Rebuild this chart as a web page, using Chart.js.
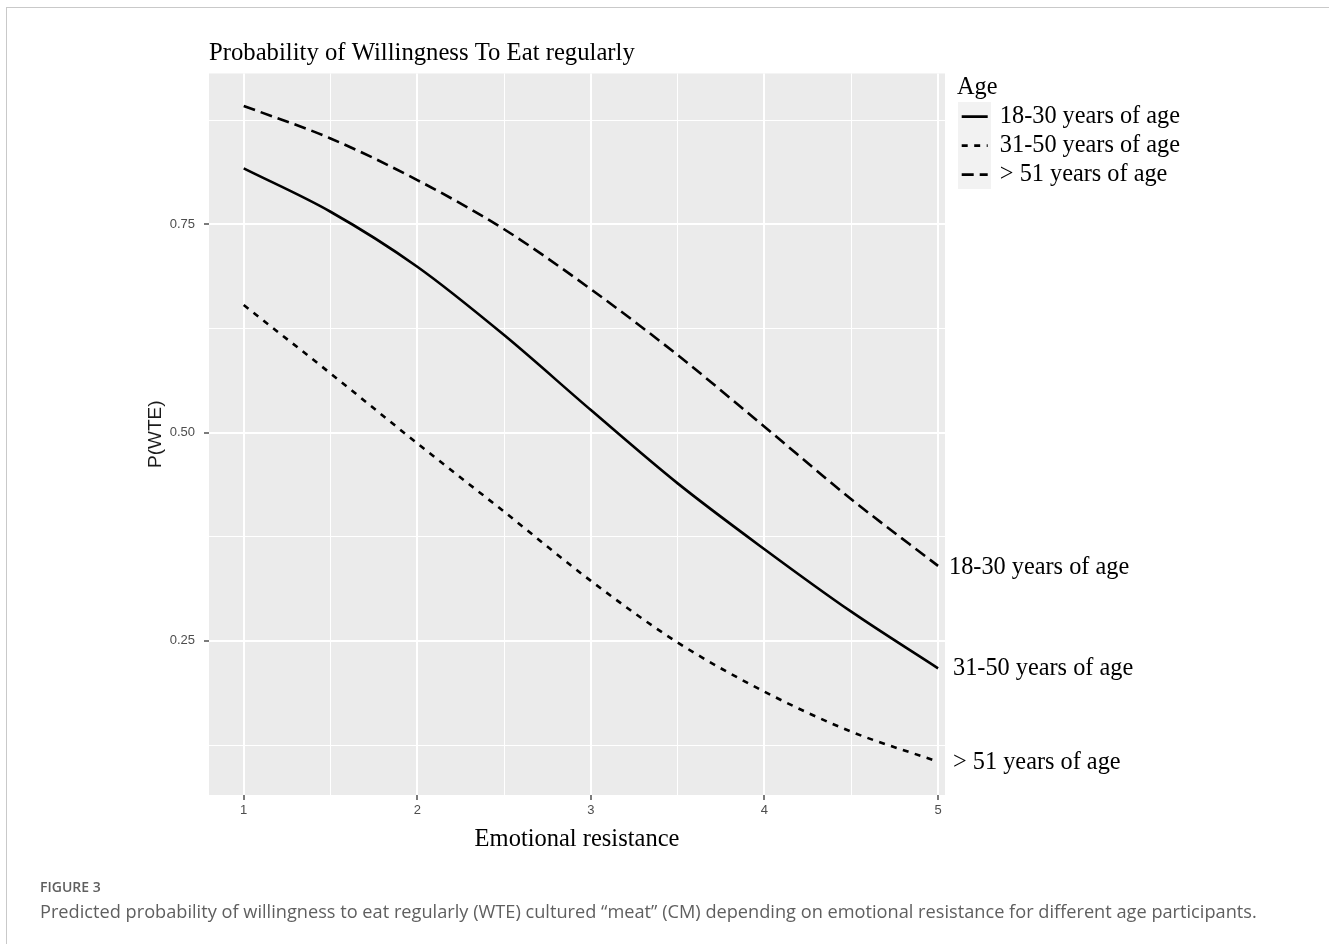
<!DOCTYPE html>
<html><head><meta charset="utf-8">
<script src="https://cdn.jsdelivr.net/npm/chart.js@4.4.1/dist/chart.umd.min.js"></script>
<style>
html,body{margin:0;padding:0;background:#fff;width:1329px;height:944px;overflow:hidden;}
#frame{position:absolute;left:6px;top:7px;width:1400px;height:1000px;border-left:1.5px solid #c9c9c9;border-top:1.5px solid #c9c9c9;}
#wrap{position:absolute;left:0;top:0;width:1329px;height:944px;}
#fig{position:absolute;left:40px;top:877px;font-family:"Open Sans";font-weight:600;font-size:14px;color:#5f5f5f;}
#cap{position:absolute;left:40px;top:899px;font-family:"Open Sans";font-size:18.2px;color:#5f5f5f;white-space:nowrap;}
</style></head><body>
<div id="frame"></div>
<div id="wrap"><canvas id="c" width="1329" height="944"></canvas></div>
<div id="fig">FIGURE 3</div>
<div id="cap">Predicted probability of willingness to eat regularly (WTE) cultured “meat” (CM) depending on emotional resistance for different age participants.</div>
<script>
const emotionalResistance = [1, 1.5, 2, 2.5, 3, 3.5, 4, 4.5, 5];
const age18to30 = [0.817, 0.765, 0.699, 0.617, 0.527, 0.439, 0.360, 0.285, 0.217];
const age31to50 = [0.653, 0.571, 0.487, 0.405, 0.322, 0.248, 0.189, 0.141, 0.105];
const age51plus = [0.892, 0.853, 0.803, 0.744, 0.672, 0.593, 0.507, 0.420, 0.340];
const seriesNames = ['18-30 years of age', '31-50 years of age', '> 51 years of age'];
const endLabelTexts = ['31-50 years of age', '> 51 years of age', '18-30 years of age'];
const xMajorTicks = [1, 2, 3, 4, 5];
const xMinorTicks = [1.5, 2.5, 3.5, 4.5];
const yMajorTicks = [0.25, 0.5, 0.75];
const yMajorLabels = ['0.25', '0.50', '0.75'];
const yMinorTicks = [0.125, 0.375, 0.625, 0.875];

const seriesValues = [age18to30, age31to50, age51plus];
const dashes = [[], [6, 6.5], [12, 6]];
const endLabelDx = [15, 15, 11];
const endLabelDy = [0, 1, 2];

const findIdx = (list, v) => list.findIndex(t => Math.abs(t - v) < 1e-9);
const serif = 'Liberation Serif';
const sans = 'Liberation Sans';

const panelBg = {
  id: 'panelBg',
  beforeDraw(chart) {
    const {ctx, chartArea: a} = chart;
    ctx.save();
    ctx.fillStyle = '#EBEBEB';
    ctx.fillRect(a.left, a.top, a.right - a.left, a.bottom - a.top);
    const lg = chart.legend;
    if (lg) {
      const y0 = lg.top + 2 + 24.3 + 0 + 4.7;
      ctx.fillStyle = '#F2F2F2';
      ctx.fillRect(lg.left + 1, y0 + 12 - 14.5, 33, 3 * 29);
    }
    ctx.restore();
  }
};

const endLabels = {
  id: 'endLabels',
  afterDatasetsDraw(chart) {
    const {ctx} = chart;
    const xs = chart.scales.x, ys = chart.scales.y;
    ctx.save();
    ctx.font = '24.3px "' + serif + '"';
    ctx.fillStyle = '#000';
    ctx.textBaseline = 'middle';
    ctx.textAlign = 'left';
    chart.data.datasets.forEach((d, i) => {
      const p = d.data[d.data.length - 1];
      ctx.fillText(endLabelTexts[i], xs.getPixelForValue(p.x) + endLabelDx[i], ys.getPixelForValue(p.y) + endLabelDy[i]);
    });
    ctx.restore();
  }
};

const datasets = seriesNames.map((name, i) => ({
  label: name,
  data: emotionalResistance.map((x, j) => ({x: x, y: seriesValues[i][j]})),
  borderColor: '#000',
  backgroundColor: '#000',
  borderWidth: 2.6,
  borderDash: dashes[i],
  borderCapStyle: 'butt',
  pointRadius: 0,
  fill: false,
  cubicInterpolationMode: 'monotone'
}));

function gridFor(majors) {
  return {
    color: '#ffffff',
    lineWidth: c => findIdx(majors, c.tick.value) >= 0 ? 2 : 1,
    tickColor: c => findIdx(majors, c.tick.value) >= 0 ? '#333333' : 'rgba(0,0,0,0)',
    tickLength: 5,
    tickWidth: 1.3,
    drawTicks: true
  };
}

const chart = new Chart(document.getElementById('c'), {
  type: 'line',
  data: {datasets: datasets},
  plugins: [panelBg, endLabels],
  options: {
    responsive: false,
    animation: false,
    events: [],
    layout: {padding: {left: 144, top: 38.6, right: 0, bottom: 89.6}},
    scales: {
      x: {
        type: 'linear', min: 0.8, max: 5.04,
        afterBuildTicks: s => { s.ticks = xMajorTicks.concat(xMinorTicks).sort((a, b) => a - b).map(v => ({value: v})); },
        afterFit: s => { s.height = 59.4; },
        grid: gridFor(xMajorTicks),
        border: {display: false},
        ticks: {
          autoSkip: false, maxRotation: 0, padding: 3, color: '#4d4d4d',
          font: {family: sans, size: 13},
          callback: v => findIdx(xMajorTicks, v) >= 0 ? String(v) : ''
        },
        title: {display: true, text: 'Emotional resistance', color: '#000', font: {family: serif, size: 24.5}, padding: 0}
      },
      y: {
        type: 'linear', min: 0.065, max: 0.931,
        afterBuildTicks: s => { s.ticks = yMajorTicks.concat(yMinorTicks).sort((a, b) => a - b).map(v => ({value: v})); },
        afterFit: s => { s.width = 65; },
        grid: gridFor(yMajorTicks),
        border: {display: false},
        ticks: {
          autoSkip: false, padding: 9, color: '#4d4d4d',
          font: {family: sans, size: 13},
          callback: v => { const k = findIdx(yMajorTicks, v); return k >= 0 ? yMajorLabels[k] : ''; }
        },
        title: {display: true, text: 'P(WTE)', color: '#1a1a1a', font: {family: sans, size: 19}, padding: 0}
      },
      yR: {
        type: 'linear', position: 'right', display: true,
        afterFit: s => { s.width = 12; },
        grid: {display: false, drawTicks: false},
        ticks: {display: false},
        border: {display: false}
      }
    },
    plugins: {
      tooltip: {enabled: false},
      title: {
        display: true, text: 'Probability of Willingness To Eat regularly', align: 'start', fullSize: false,
        color: '#000', font: {family: serif, size: 24.7, weight: 'normal'}, padding: {top: 0, bottom: 5.2}
      },
      legend: {
        position: 'right', align: 'start', fullSize: false, maxWidth: 400,
        title: {display: true, text: 'Age', position: 'start', color: '#000', font: {family: serif, size: 24.3, lineHeight: 1}, padding: {top: 2, bottom: 0}},
        labels: {
          usePointStyle: true, pointStyleWidth: 26, padding: 4.7, color: '#000',
          font: {family: serif, size: 24.3},
          generateLabels: ch => ch.data.datasets.map((d, i) => ({
            text: d.label, datasetIndex: i, pointStyle: 'line', lineDash: d.borderDash,
            lineWidth: 2.6, strokeStyle: '#000', fillStyle: '#000', hidden: false, lineCap: 'butt', fontColor: '#000'
          }))
        }
      }
    }
  }
});
const dr = chart.chartArea.right - 945;
chart.options.layout.padding.right += dr;
chart.update('none');
</script>
</body></html>
